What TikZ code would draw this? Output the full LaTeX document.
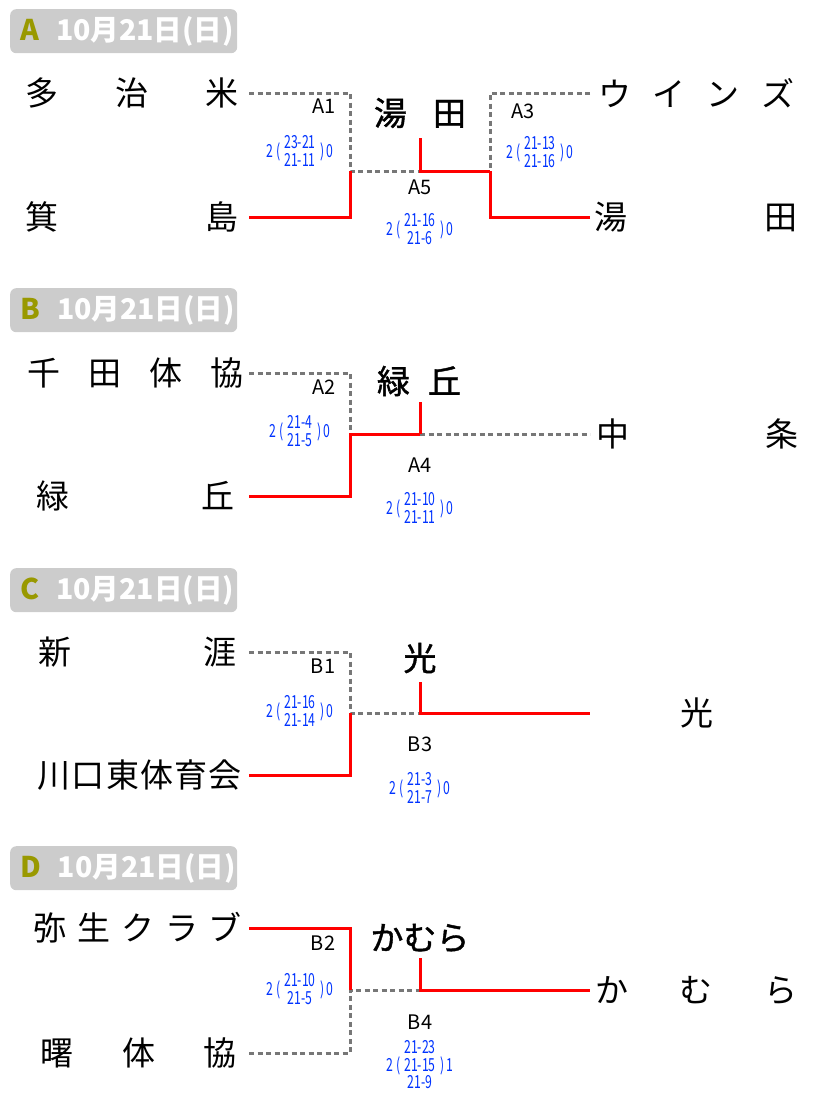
\documentclass[tikz,border=0pt]{standalone}
\usepackage{fontspec}
\setmainfont{Noto Sans CJK JP}
\newfontfamily\champfont{Noto Sans CJK JP}[FakeBold=1.2]
\usepackage{tikz}

\definecolor{hdrgray}{HTML}{CCCCCC}
\definecolor{hdrletter}{HTML}{999900}
\definecolor{lostgray}{HTML}{777777}
\definecolor{scoreblue}{HTML}{0033FF}

\newcommand{\gamescore}[3]{\scalebox{0.68}[1]{#1\hspace{4pt}(\hspace{6pt}\begin{tabular}{@{}c@{}}#2\end{tabular}\hspace{7pt})\hspace{3pt}#3}}

\begin{document}
\begin{tikzpicture}[x=1pt, y=-1pt,
  hdr/.style={anchor=north west, fill=hdrgray, rounded corners=6pt, text=white,
    font=\bfseries\fontsize{28.5}{28.5}\selectfont, inner xsep=10pt, inner ysep=0pt,
    minimum height=44pt, minimum width=227pt},
  teaml/.style={anchor=east, inner ysep=0pt, font=\fontsize{33}{33}\selectfont},
  teamr/.style={anchor=west, inner ysep=0pt, font=\fontsize{33}{33}\selectfont},
  champ/.style={inner sep=0pt, font=\champfont\fontsize{33}{33}\selectfont},
  gameid/.style={inner sep=0pt, font=\fontsize{20}{20}\selectfont},
  result/.style={inner sep=0pt, text=scoreblue, font=\fontsize{18}{15}\selectfont},
  lost/.style={draw=lostgray, line width=3pt, dash pattern=on 5pt off 3.5pt},
  won/.style={draw=red, line width=3pt}]
\useasboundingbox (0,0) rectangle (840,1116);

% block A
\node[hdr] (hdrA) at (10,9) {\makebox[207pt][l]{\textcolor{hdrletter}{A}\hspace{17pt}10月21日(日)}};
\node[teaml, inner xsep=10pt] (tA1) at (249,93) {\makebox[213pt][s]{多\hfill 治\hfill 米}};
\node[teaml, inner xsep=10pt] (tA2) at (249,217) {\makebox[213pt][s]{箕\hfill 島}};
\node[teamr, inner xsep=8pt] (tA3) at (590,93) {\makebox[196pt][s]{ウ\hfill イ\hfill ン\hfill ズ}};
\node[teamr, inner xsep=4pt] (tA4) at (590,217) {\makebox[203pt][s]{湯\hfill 田}};
\node[champ] (wA) at (420,113) {\makebox[92pt][s]{湯\hfill 田}};
\coordinate (jA1) at (350,171);
\coordinate (jA5) at (420,171);
\coordinate (jA3) at (490,171);
\coordinate (stubA) at (420,138);
\node[gameid] (gA1) at (324,106) {A1};
\node[gameid] (gA3) at (523,111) {A3};
\node[gameid] (gA5) at (420,187) {A5};
\node[result] (sA1) at (300,153) {\gamescore{2}{23-21\\21-11}{0}};
\node[result] (sA3) at (540,154) {\gamescore{2}{21-13\\21-16}{0}};
\node[result] (sA5) at (420,231) {\gamescore{2}{21-16\\21-6}{0}};
\draw[lost] (tA1.east) -| (jA1) -- (jA5);
\draw[lost] (tA3.west) -| (jA3);
\draw[won] (tA2.east) -| (jA1);
\draw[won] (stubA) -- (jA5) -- (jA3);
\draw[won] (tA4.west) -| (jA3);

% block B
\node[hdr] (hdrB) at (10,288) {\makebox[207pt][l]{\textcolor{hdrletter}{B}\hspace{17pt}10月21日(日)}};
\node[teaml, inner xsep=5pt] (tB1) at (249,373) {\makebox[216pt][s]{千\hfill 田\hfill 体\hfill 協}};
\node[teaml, inner xsep=14pt] (tB2) at (249,496) {\makebox[198pt][s]{緑\hfill 丘}};
\node[teamr, inner xsep=6pt] (tB3) at (590,434) {\makebox[202pt][s]{中\hfill 条}};
\node[champ] (wB) at (419,381) {\makebox[84pt][s]{緑\hfill 丘}};
\coordinate (jA2) at (350,434);
\coordinate (jA4) at (420,434);
\coordinate (stubB) at (420,402);
\node[gameid] (gA2) at (324,387) {A2};
\node[gameid] (gA4) at (420,465) {A4};
\node[result] (sA2) at (300,433) {\gamescore{2}{21-4\\21-5}{0}};
\node[result] (sA4) at (420,510) {\gamescore{2}{21-10\\21-11}{0}};
\draw[lost] (tB1.east) -| (jA2);
\draw[lost] (jA4) -- (tB3.west);
\draw[won] (tB2.east) -| (jA2) -- (jA4);
\draw[won] (stubB) -- (jA4);

% block C
\node[hdr] (hdrC) at (10,568) {\makebox[207pt][l]{\textcolor{hdrletter}{C}\hspace{17pt}10月21日(日)}};
\node[teaml, inner xsep=12pt] (tC1) at (249,652) {\makebox[198pt][s]{新\hfill 涯}};
\node[teaml, inner xsep=7pt] (tC2) at (249,775) {\makebox[204pt][s]{川\hfill 口\hfill 東\hfill 体\hfill 育\hfill 会}};
\node[teamr, inner xsep=6pt] (tC3) at (590,713) {\makebox[202pt][c]{光}};
\node[champ] (wC) at (420,658) {光};
\coordinate (jB1) at (350,713);
\coordinate (jB3) at (420,713);
\coordinate (stubC) at (420,682);
\node[gameid] (gB1) at (323,666) {B1};
\node[gameid] (gB3) at (420,744) {B3};
\node[result] (sB1) at (300,713) {\gamescore{2}{21-16\\21-14}{0}};
\node[result] (sB3) at (420,790) {\gamescore{2}{21-3\\21-7}{0}};
\draw[lost] (tC1.east) -| (jB1) -- (jB3);
\draw[won] (tC2.east) -| (jB1);
\draw[won] (stubC) -- (jB3) -- (tC3.west);

% block D
\node[hdr] (hdrD) at (10,846) {\makebox[207pt][l]{\textcolor{hdrletter}{D}\hspace{17pt}10月21日(日)}};
\node[teaml, inner xsep=7pt] (tD1) at (249,928) {\makebox[208pt][s]{弥\hfill 生\hfill ク\hfill ラ\hfill ブ}};
\node[teaml, inner xsep=12pt] (tD2) at (249,1053) {\makebox[196pt][s]{曙\hfill 体\hfill 協}};
\node[teamr, inner xsep=5pt] (tD3) at (590,990) {\makebox[202pt][s]{か\hfill む\hfill ら}};
\node[champ] (wD) at (420,938) {かむら};
\coordinate (jB2) at (350,990);
\coordinate (jB4) at (420,990);
\coordinate (stubD) at (420,958);
\node[gameid] (gB2) at (323,943) {B2};
\node[gameid] (gB4) at (420,1022) {B4};
\node[result] (sB2) at (300,991) {\gamescore{2}{21-10\\21-5}{0}};
\node[result] (sB4) at (420,1067) {\gamescore{2}{21-23\\21-15\\21-9}{1}};
\draw[lost] (tD2.east) -| (jB2) -- (jB4);
\draw[won] (tD1.east) -| (jB2);
\draw[won] (stubD) -- (jB4) -- (tD3.west);
\end{tikzpicture}
\end{document}
